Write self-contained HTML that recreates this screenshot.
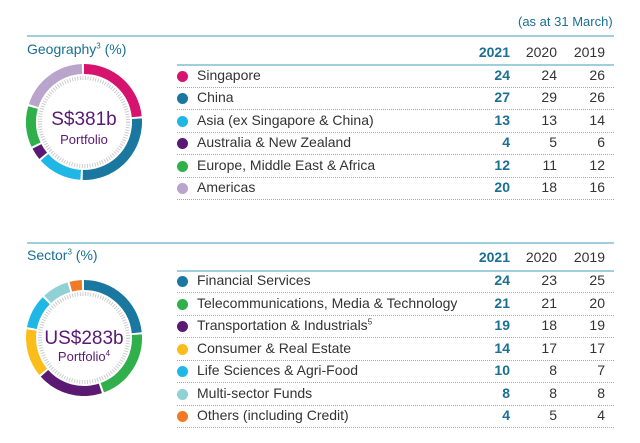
<!DOCTYPE html>
<html><head><meta charset="utf-8"><style>
body{margin:0;width:640px;height:443px;background:#fff;font-family:"Liberation Sans","DejaVu Sans",sans-serif;position:relative;overflow:hidden;color:#333}
.a{position:absolute;white-space:nowrap}
.t{color:#1a6f93;font-size:13px}
.h{color:#1a6f93;font-size:14px}
.lbl{font-size:14px;color:#333}
.n{position:absolute;font-size:14px;text-align:right;width:40px}
.b{font-weight:bold;color:#1a6f93}
.rule{position:absolute;height:2px;background:#9fcfdb}
.dot{position:absolute;left:177px;width:11px;height:11px;border-radius:50%}
.dl{position:absolute;left:177px;width:437px;border-top:1px dotted #aaa}
</style></head><body>
<div class="a t" style="left:518px;top:14px">(as at 31 March)</div>
<div class="rule" style="left:27px;top:35px;width:587px"></div>
<div class="a h" style="left:27px;top:41px">Geography<sup style="font-size:8px">3</sup> (%)</div>
<div class="n b" style="left:470px;top:44px">2021</div><div class="n" style="left:517px;top:44px">2020</div><div class="n" style="left:565px;top:44px">2019</div>
<div class="rule" style="left:177px;top:64px;width:437px"></div>

<svg class="a" style="left:26px;top:64px" width="116" height="116" viewBox="0 0 116 116">
<g fill="none" stroke-width="10">
<circle cx="58" cy="58" r="53" pathLength="100" stroke="#d6136f" stroke-dasharray="23.4 100" transform="rotate(-90 58 58)"/>
<circle cx="58" cy="58" r="53" pathLength="100" stroke="#1a77a0" stroke-dasharray="26.4 100" transform="rotate(-3.6 58 58)"/>
<circle cx="58" cy="58" r="53" pathLength="100" stroke="#1fb7e6" stroke-dasharray="12.4 100" transform="rotate(93.6 58 58)"/>
<circle cx="58" cy="58" r="53" pathLength="100" stroke="#5a1a73" stroke-dasharray="3.4 100" transform="rotate(140.4 58 58)"/>
<circle cx="58" cy="58" r="53" pathLength="100" stroke="#2fb04b" stroke-dasharray="11.4 100" transform="rotate(154.8 58 58)"/>
<circle cx="58" cy="58" r="53" pathLength="100" stroke="#b9a5cc" stroke-dasharray="19.4 100" transform="rotate(198 58 58)"/>
<circle cx="58" cy="58" r="44" stroke="#ccc" stroke-width="4" stroke-dasharray="1 1.6"/>
</g>
<text x="58" y="61" text-anchor="middle" font-size="19" fill="#5a1a73" font-family="Liberation Sans,sans-serif">S$381b</text>
<text x="58" y="80" text-anchor="middle" font-size="13" fill="#5a1a73" font-family="Liberation Sans,sans-serif">Portfolio</text>
</svg>

<div class="dot" style="top:71px;background:#d6136f"></div><div class="a lbl" style="left:197px;top:67px">Singapore</div>
<div class="n b" style="left:470px;top:67px">24</div><div class="n" style="left:517px;top:67px">24</div><div class="n" style="left:565px;top:67px">26</div><div class="dl" style="top:87px"></div>
<div class="dot" style="top:93px;background:#1a77a0"></div><div class="a lbl" style="left:197px;top:89px">China</div>
<div class="n b" style="left:470px;top:89px">27</div><div class="n" style="left:517px;top:89px">29</div><div class="n" style="left:565px;top:89px">26</div><div class="dl" style="top:109px"></div>
<div class="dot" style="top:116px;background:#1fb7e6"></div><div class="a lbl" style="left:197px;top:112px">Asia (ex Singapore &amp; China)</div>
<div class="n b" style="left:470px;top:112px">13</div><div class="n" style="left:517px;top:112px">13</div><div class="n" style="left:565px;top:112px">14</div><div class="dl" style="top:132px"></div>
<div class="dot" style="top:138px;background:#5a1a73"></div><div class="a lbl" style="left:197px;top:134px">Australia &amp; New Zealand</div>
<div class="n b" style="left:470px;top:134px">4</div><div class="n" style="left:517px;top:134px">5</div><div class="n" style="left:565px;top:134px">6</div><div class="dl" style="top:154px"></div>
<div class="dot" style="top:161px;background:#2fb04b"></div><div class="a lbl" style="left:197px;top:157px">Europe, Middle East &amp; Africa</div>
<div class="n b" style="left:470px;top:157px">12</div><div class="n" style="left:517px;top:157px">11</div><div class="n" style="left:565px;top:157px">12</div><div class="dl" style="top:177px"></div>
<div class="dot" style="top:183px;background:#b9a5cc"></div><div class="a lbl" style="left:197px;top:179px">Americas</div>
<div class="n b" style="left:470px;top:179px">20</div><div class="n" style="left:517px;top:179px">18</div><div class="n" style="left:565px;top:179px">16</div><div class="dl" style="top:199px"></div>

<div class="rule" style="left:27px;top:242px;width:587px"></div>
<div class="a h" style="left:27px;top:247px">Sector<sup style="font-size:8px">3</sup> (%)</div>
<div class="n b" style="left:470px;top:249px">2021</div><div class="n" style="left:517px;top:249px">2020</div><div class="n" style="left:565px;top:249px">2019</div>
<div class="rule" style="left:177px;top:270px;width:437px"></div>

<svg class="a" style="left:26px;top:280px" width="116" height="116" viewBox="0 0 116 116">
<g fill="none" stroke-width="10">
<circle cx="58" cy="58" r="53" pathLength="100" stroke="#1a77a0" stroke-dasharray="23.4 100" transform="rotate(-90 58 58)"/>
<circle cx="58" cy="58" r="53" pathLength="100" stroke="#2fb04b" stroke-dasharray="20.4 100" transform="rotate(-3.6 58 58)"/>
<circle cx="58" cy="58" r="53" pathLength="100" stroke="#5a1a73" stroke-dasharray="18.4 100" transform="rotate(72 58 58)"/>
<circle cx="58" cy="58" r="53" pathLength="100" stroke="#fbbd1a" stroke-dasharray="13.4 100" transform="rotate(140.4 58 58)"/>
<circle cx="58" cy="58" r="53" pathLength="100" stroke="#1fb7e6" stroke-dasharray="9.4 100" transform="rotate(190.8 58 58)"/>
<circle cx="58" cy="58" r="53" pathLength="100" stroke="#8fd1d4" stroke-dasharray="7.4 100" transform="rotate(226.8 58 58)"/>
<circle cx="58" cy="58" r="53" pathLength="100" stroke="#f07a25" stroke-dasharray="3.4 100" transform="rotate(255.6 58 58)"/>
<circle cx="58" cy="58" r="44" stroke="#ccc" stroke-width="4" stroke-dasharray="1 1.6"/>
</g>
<text x="58" y="64" text-anchor="middle" font-size="19" fill="#5a1a73" font-family="Liberation Sans,sans-serif">US$283b</text>
<text x="58" y="81" text-anchor="middle" font-size="13" fill="#5a1a73" font-family="Liberation Sans,sans-serif">Portfolio<tspan font-size="8" dy="-5">4</tspan></text>
</svg>

<div class="dot" style="top:276px;background:#1a77a0"></div><div class="a lbl" style="left:197px;top:272px">Financial Services</div>
<div class="n b" style="left:470px;top:272px">24</div><div class="n" style="left:517px;top:272px">23</div><div class="n" style="left:565px;top:272px">25</div><div class="dl" style="top:292px"></div>
<div class="dot" style="top:299px;background:#2fb04b"></div><div class="a lbl" style="left:197px;top:295px">Telecommunications, Media &amp; Technology</div>
<div class="n b" style="left:470px;top:295px">21</div><div class="n" style="left:517px;top:295px">21</div><div class="n" style="left:565px;top:295px">20</div><div class="dl" style="top:315px"></div>
<div class="dot" style="top:321px;background:#5a1a73"></div><div class="a lbl" style="left:197px;top:317px">Transportation &amp; Industrials<sup style="font-size:8px">5</sup></div>
<div class="n b" style="left:470px;top:317px">19</div><div class="n" style="left:517px;top:317px">18</div><div class="n" style="left:565px;top:317px">19</div><div class="dl" style="top:337px"></div>
<div class="dot" style="top:344px;background:#fbbd1a"></div><div class="a lbl" style="left:197px;top:340px">Consumer &amp; Real Estate</div>
<div class="n b" style="left:470px;top:340px">14</div><div class="n" style="left:517px;top:340px">17</div><div class="n" style="left:565px;top:340px">17</div><div class="dl" style="top:360px"></div>
<div class="dot" style="top:366px;background:#1fb7e6"></div><div class="a lbl" style="left:197px;top:362px">Life Sciences &amp; Agri-Food</div>
<div class="n b" style="left:470px;top:362px">10</div><div class="n" style="left:517px;top:362px">8</div><div class="n" style="left:565px;top:362px">7</div><div class="dl" style="top:382px"></div>
<div class="dot" style="top:389px;background:#8fd1d4"></div><div class="a lbl" style="left:197px;top:385px">Multi-sector Funds</div>
<div class="n b" style="left:470px;top:385px">8</div><div class="n" style="left:517px;top:385px">8</div><div class="n" style="left:565px;top:385px">8</div><div class="dl" style="top:405px"></div>
<div class="dot" style="top:411px;background:#f07a25"></div><div class="a lbl" style="left:197px;top:407px">Others (including Credit)</div>
<div class="n b" style="left:470px;top:407px">4</div><div class="n" style="left:517px;top:407px">5</div><div class="n" style="left:565px;top:407px">4</div><div class="dl" style="top:427px"></div>
</body></html>
